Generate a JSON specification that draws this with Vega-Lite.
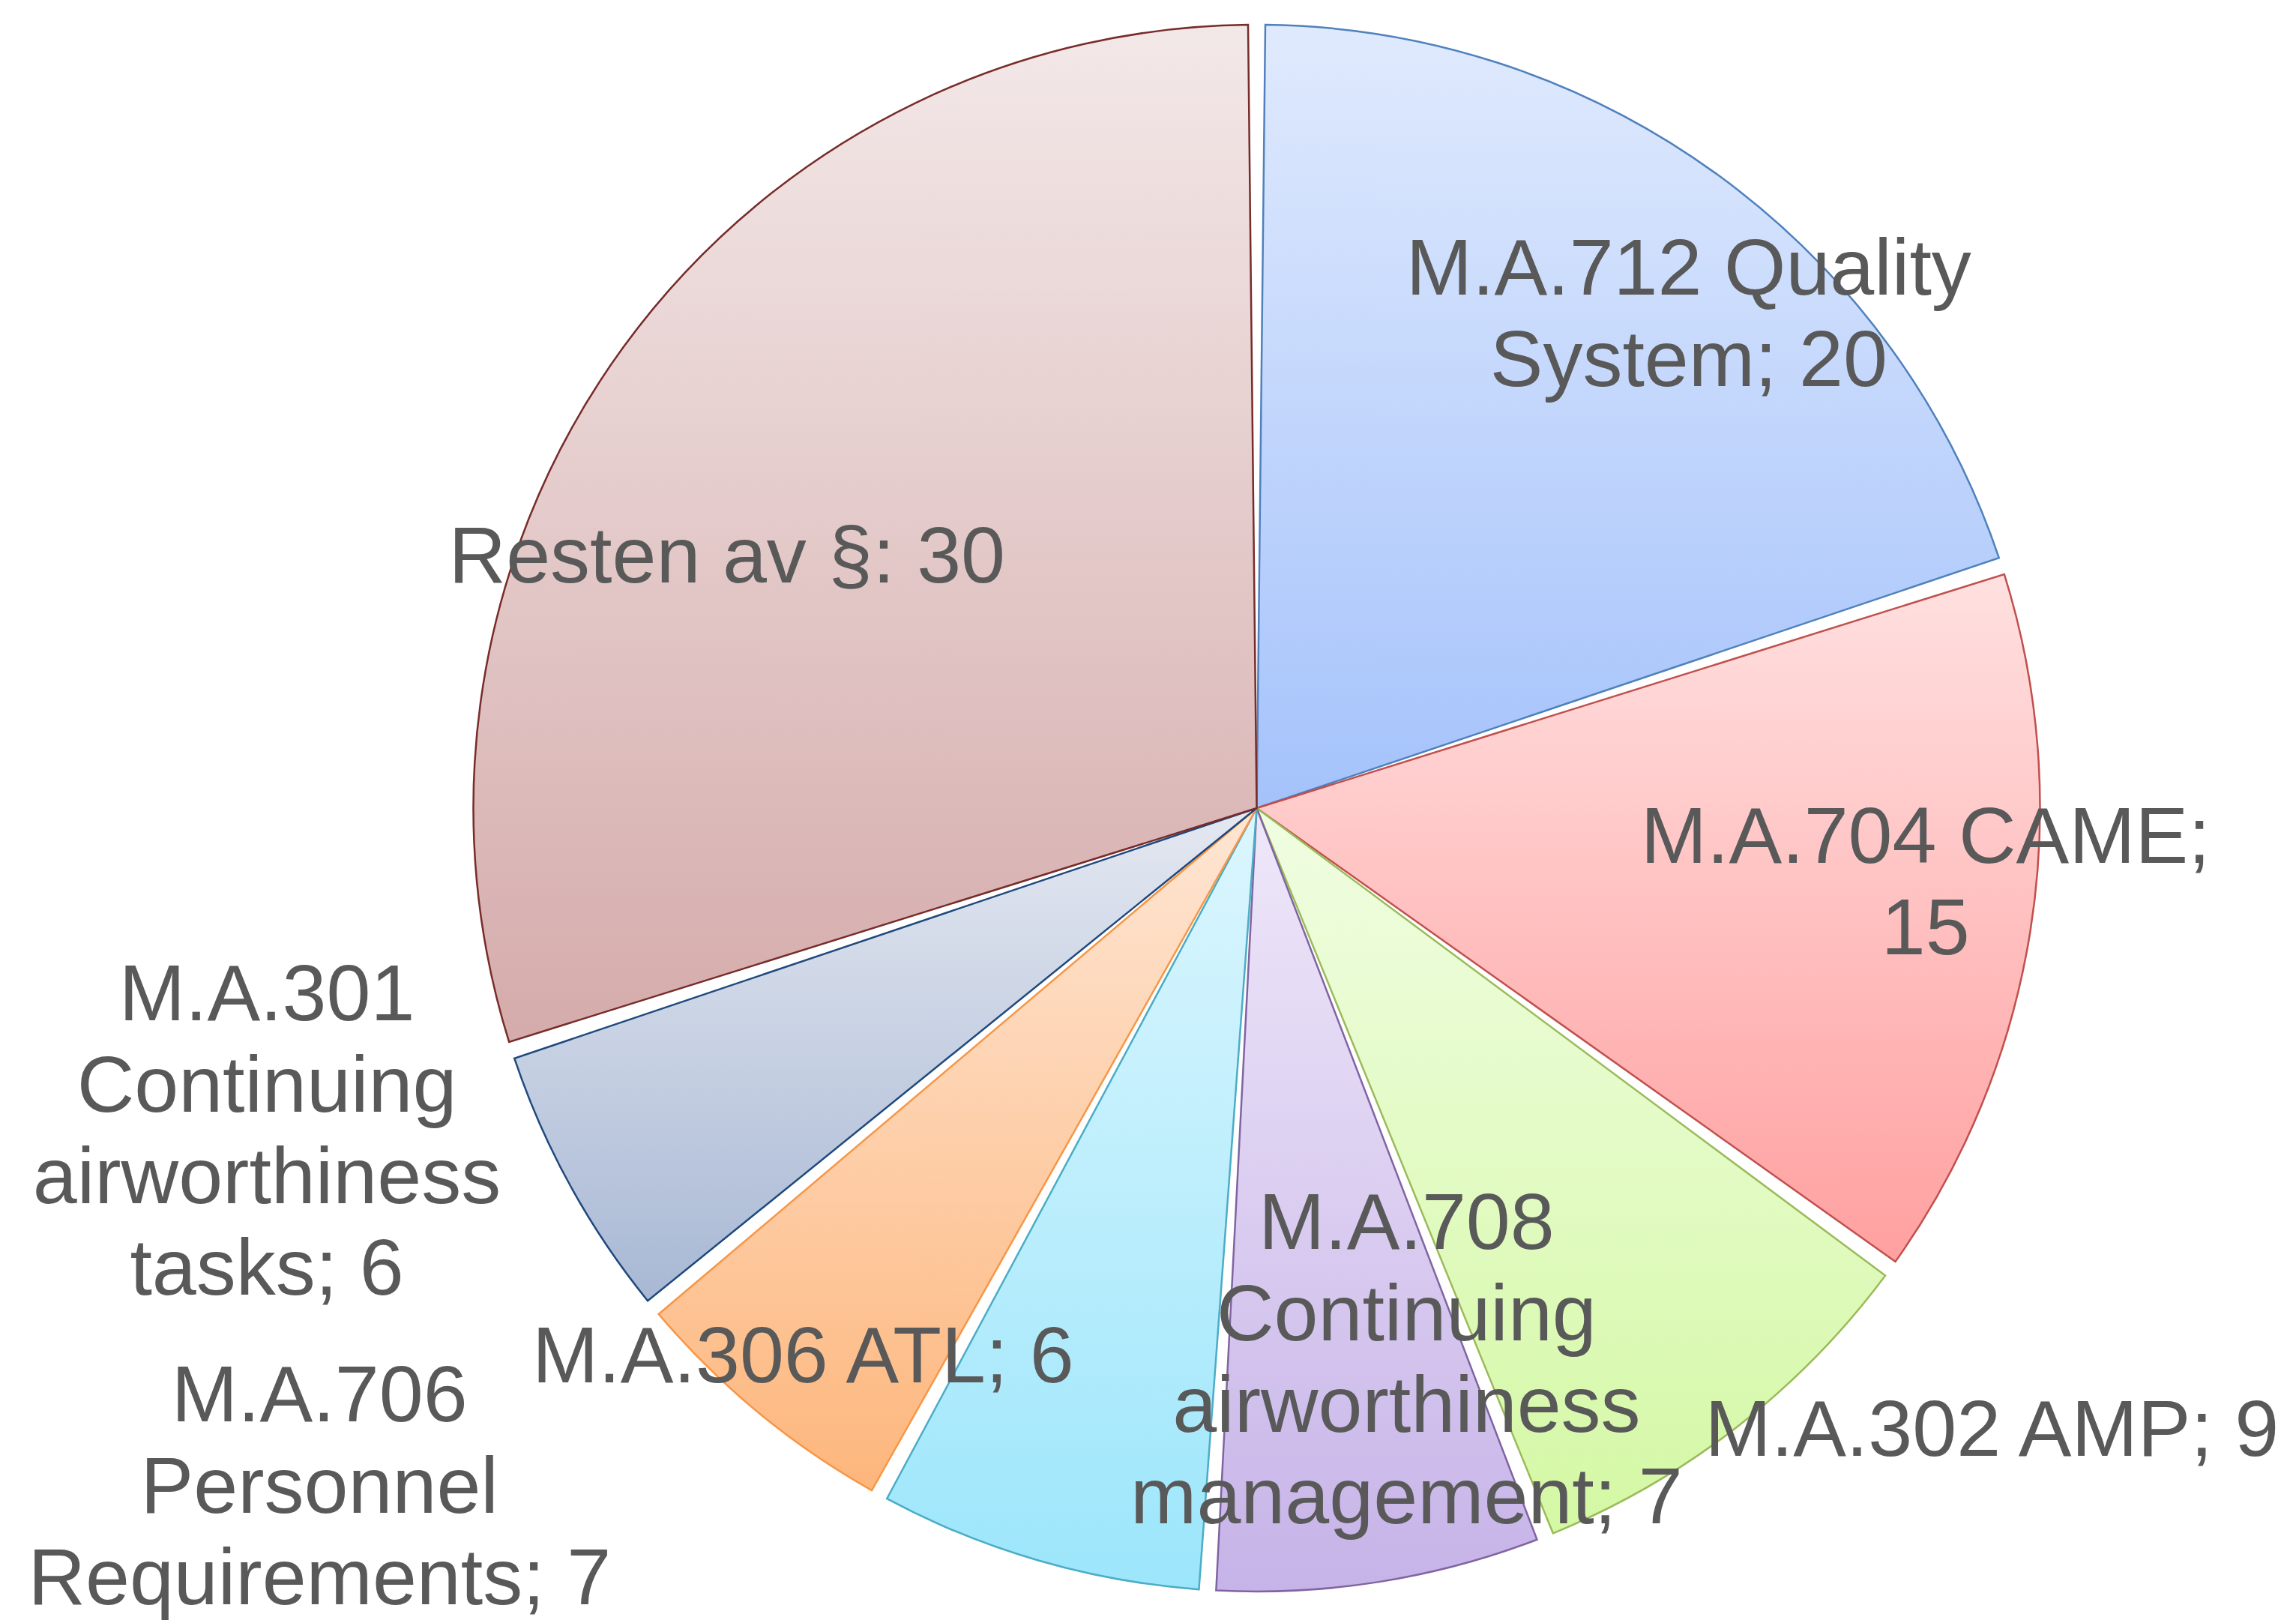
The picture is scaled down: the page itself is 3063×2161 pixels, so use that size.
{
  "$schema": "https://vega.github.io/schema/vega-lite/v6.json",
  "width": 2773,
  "height": 2156,
  "autosize": {"type": "none"},
  "padding": {"left": 290, "right": 0, "top": 0, "bottom": 5},
  "background": "white",
  "view": {"stroke": null},
  "data": {"values": [
    {"order": 1, "cat": "M.A.712", "label": "M.A.712 Quality\nSystem; 20", "value": 20},
    {"order": 2, "cat": "M.A.704", "label": "M.A.704 CAME;\n15", "value": 15},
    {"order": 3, "cat": "M.A.302", "label": "M.A.302 AMP; 9", "value": 9},
    {"order": 4, "cat": "M.A.708", "label": "M.A.708\nContinuing\nairworthiness\nmanagement; 7", "value": 7},
    {"order": 5, "cat": "M.A.706", "label": "M.A.706\nPersonnel\nRequirements; 7", "value": 7},
    {"order": 6, "cat": "M.A.306", "label": "M.A.306 ATL; 6", "value": 6},
    {"order": 7, "cat": "M.A.301", "label": "M.A.301\nContinuing\nairworthiness\ntasks; 6", "value": 6},
    {"order": 8, "cat": "Resten", "label": "Resten av §: 30", "value": 30}
  ]},
  "transform": [
    {"stack": "value", "groupby": [], "sort": [{"field": "order"}], "as": ["v0", "v1"]}
  ],
  "encoding": {
    "theta": {"field": "v0", "type": "quantitative", "stack": null, "scale": {"domain": [0, 100]}}
  },
  "layer": [
    {"transform": [{"filter": "datum.order == 1"}], "mark": {"type": "arc", "radius": 1045, "padAngle": 0.022, "stroke": "#4f81bd", "strokeWidth": 2.5, "fill": {"gradient": "linear", "x1": 0, "y1": 0, "x2": 0, "y2": 1, "stops": [{"offset": 0, "color": "#e0eafd"}, {"offset": 1, "color": "#a4c2fb"}]}}, "encoding": {"theta2": {"field": "v1"}}},
    {"transform": [{"filter": "datum.order == 2"}], "mark": {"type": "arc", "radius": 1045, "padAngle": 0.022, "stroke": "#c0504d", "strokeWidth": 2.5, "fill": {"gradient": "linear", "x1": 0, "y1": 0, "x2": 0, "y2": 1, "stops": [{"offset": 0, "color": "#ffe0e0"}, {"offset": 1, "color": "#ffa0a0"}]}}, "encoding": {"theta2": {"field": "v1"}}},
    {"transform": [{"filter": "datum.order == 3"}], "mark": {"type": "arc", "radius": 1045, "padAngle": 0.022, "stroke": "#9bbb59", "strokeWidth": 2.5, "fill": {"gradient": "linear", "x1": 0, "y1": 0, "x2": 0, "y2": 1, "stops": [{"offset": 0, "color": "#f0fde2"}, {"offset": 1, "color": "#d4f8a4"}]}}, "encoding": {"theta2": {"field": "v1"}}},
    {"transform": [{"filter": "datum.order == 4"}], "mark": {"type": "arc", "radius": 1045, "padAngle": 0.022, "stroke": "#8064a2", "strokeWidth": 2.5, "fill": {"gradient": "linear", "x1": 0, "y1": 0, "x2": 0, "y2": 1, "stops": [{"offset": 0, "color": "#efe8f9"}, {"offset": 1, "color": "#c6b3e8"}]}}, "encoding": {"theta2": {"field": "v1"}}},
    {"transform": [{"filter": "datum.order == 5"}], "mark": {"type": "arc", "radius": 1045, "padAngle": 0.022, "stroke": "#4bacc6", "strokeWidth": 2.5, "fill": {"gradient": "linear", "x1": 0, "y1": 0, "x2": 0, "y2": 1, "stops": [{"offset": 0, "color": "#dcf6fe"}, {"offset": 1, "color": "#9ce6fb"}]}}, "encoding": {"theta2": {"field": "v1"}}},
    {"transform": [{"filter": "datum.order == 6"}], "mark": {"type": "arc", "radius": 1045, "padAngle": 0.022, "stroke": "#f79646", "strokeWidth": 2.5, "fill": {"gradient": "linear", "x1": 0, "y1": 0, "x2": 0, "y2": 1, "stops": [{"offset": 0, "color": "#fee6d4"}, {"offset": 1, "color": "#fdb67c"}]}}, "encoding": {"theta2": {"field": "v1"}}},
    {"transform": [{"filter": "datum.order == 7"}], "mark": {"type": "arc", "radius": 1045, "padAngle": 0.022, "stroke": "#1f497d", "strokeWidth": 2.5, "fill": {"gradient": "linear", "x1": 0, "y1": 0, "x2": 0, "y2": 1, "stops": [{"offset": 0, "color": "#e4e8f1"}, {"offset": 1, "color": "#a8b8d4"}]}}, "encoding": {"theta2": {"field": "v1"}}},
    {"transform": [{"filter": "datum.order == 8"}], "mark": {"type": "arc", "radius": 1045, "padAngle": 0.022, "stroke": "#772c2a", "strokeWidth": 2.5, "fill": {"gradient": "linear", "x1": 0, "y1": 0, "x2": 0, "y2": 1, "stops": [{"offset": 0, "color": "#f3e8e8"}, {"offset": 1, "color": "#d5abab"}]}}, "encoding": {"theta2": {"field": "v1"}}},
    {"transform": [{"filter": "datum.order == 1"}], "mark": {"type": "text", "radius": 873, "thetaOffset": 0.721, "dy": -61, "font": "Liberation Sans", "fontSize": 106, "lineHeight": 122, "lineBreak": "\n", "align": "center", "baseline": "middle", "color": "#595959"}, "encoding": {"text": {"field": "label"}}},
    {"transform": [{"filter": "datum.order == 2"}], "mark": {"type": "text", "radius": 898, "thetaOffset": 0.428, "dy": -61, "font": "Liberation Sans", "fontSize": 106, "lineHeight": 122, "lineBreak": "\n", "align": "center", "baseline": "middle", "color": "#595959"}, "encoding": {"text": {"field": "label"}}},
    {"transform": [{"filter": "datum.order == 3"}], "mark": {"type": "text", "radius": 1286, "thetaOffset": 0.075, "font": "Liberation Sans", "fontSize": 106, "lineHeight": 122, "lineBreak": "\n", "align": "center", "baseline": "middle", "color": "#595959"}, "encoding": {"text": {"field": "label"}}},
    {"transform": [{"filter": "datum.order == 4"}], "mark": {"type": "text", "radius": 766, "thetaOffset": 0.113, "dy": -183, "font": "Liberation Sans", "fontSize": 106, "lineHeight": 122, "lineBreak": "\n", "align": "center", "baseline": "middle", "color": "#595959"}, "encoding": {"text": {"field": "label"}}},
    {"transform": [{"filter": "datum.order == 5"}], "mark": {"type": "text", "radius": 1545, "thetaOffset": 0.88, "dy": -122, "font": "Liberation Sans", "fontSize": 106, "lineHeight": 122, "lineBreak": "\n", "align": "center", "baseline": "middle", "color": "#595959"}, "encoding": {"text": {"field": "label"}}},
    {"transform": [{"filter": "datum.order == 6"}], "mark": {"type": "text", "radius": 951, "thetaOffset": 0.187, "font": "Liberation Sans", "fontSize": 106, "lineHeight": 122, "lineBreak": "\n", "align": "center", "baseline": "middle", "color": "#595959"}, "encoding": {"text": {"field": "label"}}},
    {"transform": [{"filter": "datum.order == 7"}], "mark": {"type": "text", "radius": 1390, "thetaOffset": 0.3735, "dy": -183, "font": "Liberation Sans", "fontSize": 106, "lineHeight": 122, "lineBreak": "\n", "align": "center", "baseline": "middle", "color": "#595959"}, "encoding": {"text": {"field": "label"}}},
    {"transform": [{"filter": "datum.order == 8"}], "mark": {"type": "text", "radius": 781, "thetaOffset": 0.754, "font": "Liberation Sans", "fontSize": 106, "lineHeight": 122, "lineBreak": "\n", "align": "center", "baseline": "middle", "color": "#595959"}, "encoding": {"text": {"field": "label"}}}
  ]
}
